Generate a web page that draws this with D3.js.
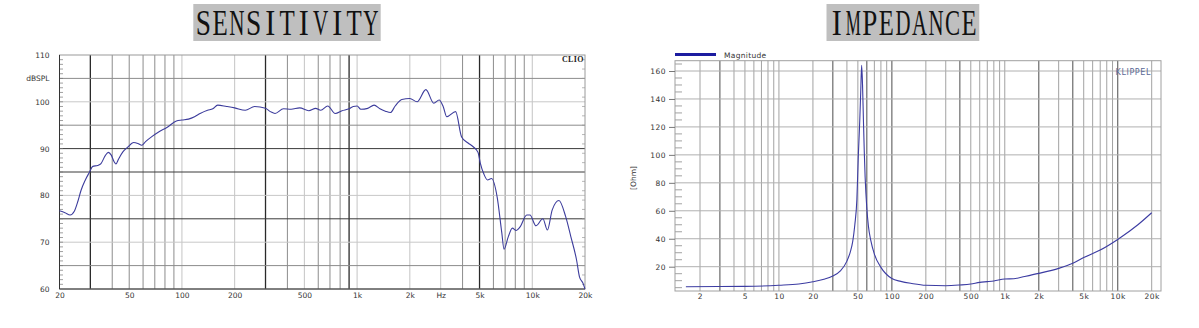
<!DOCTYPE html>
<html>
<head>
<meta charset="utf-8">
<script src="https://cdn.jsdelivr.net/npm/d3@7"></script>
<style>
  body { margin: 0; background: #fff; }
  svg { display: block; }
</style>
</head>
<body>
<svg id="chart" width="1199" height="328"></svg>
<script>
// sensitivity curve (CLIO)
const sensFreq = [20, 21.5, 23, 24.3, 25.5, 26.5, 28, 29.5, 31, 33, 34.5, 36.5, 38, 39.5, 41, 42, 43.5, 46, 49, 53,
  56, 59, 62, 67, 74, 82, 93, 100, 109, 118, 127, 140, 150, 160, 180, 200, 230, 260, 300, 320,
  340, 380, 420, 470, 530, 580, 620, 680, 750, 820, 900, 950, 1000, 1050, 1150, 1250, 1350, 1450, 1550, 1650,
  1800, 2000, 2200, 2470, 2740, 2940, 3100, 3250, 3650, 3950, 4300, 4600, 4900, 5050, 5300, 5550, 5850, 6300, 6700, 6900,
  7300, 7700, 8100, 8500, 9300, 9700, 10500, 11500, 12200, 13000, 14200, 15500, 16600, 17900, 18600, 19500, 20000];
const sensDb = [76.7, 76.3, 75.8, 76.6, 78.8, 81, 83.2, 84.8, 86.2, 86.4, 86.8, 88.5, 89.2, 88.6, 87.2, 86.7, 87.8, 89.3, 90.3, 91.3,
  91.1, 90.7, 91.5, 92.5, 93.6, 94.5, 95.9, 96.1, 96.3, 96.8, 97.5, 98.2, 98.5, 99.3, 99.0, 98.7, 98.2, 99.0, 98.6, 97.9,
  97.5, 98.5, 98.4, 98.7, 98.1, 98.6, 98.2, 99.1, 97.5, 98.1, 98.5, 99.0, 99.1, 98.4, 98.6, 99.3, 98.5, 98.0, 97.7, 99.1,
  100.5, 100.7, 100.0, 102.6, 99.7, 100.4, 99.0, 96.8, 97.9, 92.5, 91.2, 90.4, 89.2, 86.9, 84.5, 83.3, 83.6, 79.7, 72.0, 68.5,
  71.2, 73.0, 72.5, 73.2, 75.8, 75.8, 73.5, 75.0, 72.6, 76.9, 78.9, 75.5, 71.2, 66.2, 62.6, 61.2, 60.0];
const sensXTicks = [20, 50, 100, 200, 500, 1000, 2000, 3000, 5000, 10000, 20000];
const sensXLabels = ["20", "50", "100", "200", "500", "1k", "2k", "Hz", "5k", "10k", "20k"];
const sensYTicks = [60, 70, 80, 90, 100, 105, 110];
const sensYLabels = ["60", "70", "80", "90", "100", "dBSPL", "110"];

// impedance curve (KLIPPEL)
const impFreq = [1.5, 3, 5, 10, 15, 20, 25, 30, 35, 40, 43, 45, 47, 49, 50.5, 52, 53, 54, 55, 56,
  57, 58, 60, 62, 65, 70, 80, 100, 120, 150, 200, 300, 400, 500, 600, 700, 800, 1000, 1200, 1500,
  2000, 3000, 4000, 5000, 7000, 10000, 15000, 20000];
const impOhm = [5.7, 5.8, 5.9, 6.7, 7.6, 9.2, 11, 13.4, 17, 24, 31, 38, 50, 68, 100, 125, 145, 164, 150, 125,
  102, 84, 62, 49, 39, 29, 19.5, 11.5, 9.5, 8, 6.7, 6.4, 6.9, 7.6, 8.8, 9.3, 9.8, 11.2, 11.4, 13,
  15.2, 18.8, 22.4, 26.5, 31.9, 39.5, 49.8, 58.6];
const impXTicks = [2, 5, 10, 20, 50, 100, 200, 500, 1000, 2000, 5000, 10000, 20000];
const impXLabels = ["2", "5", "10", "20", "50", "100", "200", "500", "1k", "2k", "5k", "10k", "20k"];
const impYTicks = [20, 40, 60, 80, 100, 120, 140, 160];

const svg = d3.select("#chart");
const sansFont = '"DejaVu Sans", sans-serif';

function logGridValues(lo, hi) {
  const out = [];
  for (let d = 1; d <= 10000; d *= 10)
    for (let m = 1; m < 10; m++) { const f = d * m; if (f > lo && f < hi) out.push(f); }
  return out;
}

// monospaced-looking title: each glyph squeezed into its own cell
function drawTitle(label, x, w, cell) {
  svg.append("rect").attr("x", x).attr("y", 4).attr("width", w).attr("height", 37).attr("fill", "#bfbfbf");
  const start = x + (w - cell * label.length) / 2;
  svg.append("g").selectAll("text").data(label.split("")).join("text")
    .attr("text-anchor", "middle")
    .attr("font-family", '"Liberation Serif", serif')
    .attr("font-size", 35)
    .attr("fill", "#111")
    .text(c => c)
    .attr("transform", function (c, i) {
      const len = this.getComputedTextLength();
      const k = Math.min(0.86, (cell - 1.5) / len);
      return `translate(${start + cell * (i + 0.5)},35) scale(${k},1)`;
    });
}

// ---------- SENSITIVITY ----------
drawTitle("SENSITIVITY", 193.3, 187.4, 16.75);

const sx = d3.scaleLog().domain([20, 20000]).range([59.5, 585]);
const sy = d3.scaleLinear().domain([60, 110]).range([289, 55]);
const g1 = svg.append("g");

const sensDark = [30, 300, 900, 5000];
const sensLight = [100, 200, 500, 1000, 2000, 3000, 10000];
g1.append("g").selectAll("line").data(logGridValues(20, 20000)).join("line")
  .attr("x1", d => sx(d)).attr("x2", d => sx(d)).attr("y1", sy(110)).attr("y2", sy(60))
  .attr("stroke", d => sensDark.includes(d) ? "#2a2a2a" : sensLight.includes(d) ? "#c4c4c4" : "#8c8c8c")
  .attr("stroke-width", d => sensDark.includes(d) ? 1.3 : 1);

const hDark = [75, 85, 90];
const hLight = [70, 80, 100];
g1.append("g").selectAll("line").data(d3.range(65, 110, 5)).join("line")
  .attr("x1", sx(20)).attr("x2", sx(20000)).attr("y1", d => sy(d)).attr("y2", d => sy(d))
  .attr("stroke", d => hDark.includes(d) ? "#3a3a3a" : hLight.includes(d) ? "#c8c8c8" : "#8c8c8c");

// minor ticks inside the frame
g1.append("g").selectAll("line").data(d3.range(61, 110, 1)).join("line")
  .attr("x1", sx(20)).attr("x2", sx(20) + 3.5).attr("y1", d => sy(d)).attr("y2", d => sy(d))
  .attr("stroke", "#777").attr("stroke-width", 0.7);
g1.append("g").selectAll("line").data(d3.range(61, 110, 2)).join("line")
  .attr("x1", sx(20000) - 3).attr("x2", sx(20000)).attr("y1", d => sy(d)).attr("y2", d => sy(d))
  .attr("stroke", "#999").attr("stroke-width", 0.7);

// frame
g1.append("rect").attr("x", sx(20)).attr("y", sy(110))
  .attr("width", sx(20000) - sx(20)).attr("height", sy(60) - sy(110))
  .attr("fill", "none").attr("stroke", "#9a9a9a");
g1.append("path").attr("d", `M${sx(20)},${sy(110)}V${sy(60)}H${sx(20000)}`)
  .attr("fill", "none").attr("stroke", "#333");

g1.append("path")
  .datum(sensFreq.map((f, i) => [f, sensDb[i]]))
  .attr("fill", "none").attr("stroke", "#3c3c9c").attr("stroke-width", 1.1)
  .attr("d", d3.line().x(d => sx(d[0])).y(d => sy(d[1])).curve(d3.curveMonotoneX));

const sAxisY = g1.append("g").attr("transform", `translate(${sx(20)},0)`)
  .call(d3.axisLeft(sy).tickValues(sensYTicks).tickFormat((d, i) => sensYLabels[i]).tickSize(0).tickPadding(10));
const sAxisX = g1.append("g").attr("transform", `translate(0,${sy(60)})`)
  .call(d3.axisBottom(sx).tickValues(sensXTicks).tickFormat((d, i) => sensXLabels[i]).tickSize(0).tickPadding(4));
[sAxisY, sAxisX].forEach(a => {
  a.select(".domain").remove();
  a.selectAll("text").attr("font-family", sansFont).attr("font-size", 7.5).attr("fill", "#333");
});

g1.append("text").attr("x", sx(20000) - 1).attr("y", 62)
  .attr("text-anchor", "end").attr("font-family", '"Liberation Serif", serif')
  .attr("font-weight", "bold").attr("font-size", 8).attr("letter-spacing", 0.4)
  .attr("fill", "#222").text("CLIO");

// ---------- IMPEDANCE ----------
drawTitle("IMPEDANCE", 826.5, 152.8, 16.56);

const ix = d3.scaleLog().domain([2, 20000]).range([700, 1151.7]);
const iy = d3.scaleLinear().domain([20, 160]).range([266.7, 71]);
const fx0 = 675, fx1 = 1161, fy0 = 60.7, fy1 = 291;
const g2 = svg.append("g");

const impDark = [3, 30, 60, 100, 400, 2000, 4000, 10000];
g2.append("g").selectAll("line").data(logGridValues(ix.invert(fx0), ix.invert(fx1))).join("line")
  .attr("x1", d => ix(d)).attr("x2", d => ix(d)).attr("y1", fy0).attr("y2", fy1)
  .attr("stroke", d => impDark.includes(d) ? "#6a6a6a" : "#a2a2a2")
  .attr("stroke-width", d => impDark.includes(d) ? 1.2 : 1);

g2.append("g").selectAll("line").data(impYTicks).join("line")
  .attr("x1", fx0).attr("x2", fx1).attr("y1", d => iy(d)).attr("y2", d => iy(d))
  .attr("stroke", "#b0b0b0");

g2.append("g").selectAll("line").data(d3.range(5, 170, 5).filter(v => v % 20 !== 0)).join("line")
  .attr("x1", fx0).attr("x2", fx0 + 7).attr("y1", d => iy(d)).attr("y2", d => iy(d))
  .attr("stroke", "#8a8a8a").attr("stroke-width", 0.8);

g2.append("rect").attr("x", fx0).attr("y", fy0).attr("width", fx1 - fx0).attr("height", fy1 - fy0)
  .attr("fill", "none").attr("stroke", "#a0a0a0");

g2.append("path")
  .datum(impFreq.map((f, i) => [f, impOhm[i]]))
  .attr("fill", "none").attr("stroke", "#3c3ca2").attr("stroke-width", 1.1)
  .attr("d", d3.line().x(d => ix(d[0])).y(d => iy(d[1])).curve(d3.curveMonotoneX));

const iAxisY = g2.append("g").attr("transform", `translate(${fx0},0)`)
  .call(d3.axisLeft(iy).tickValues(impYTicks).tickSize(6).tickPadding(3));
const iAxisX = g2.append("g").attr("transform", `translate(0,${fy1})`)
  .call(d3.axisBottom(ix).tickValues(impXTicks).tickFormat((d, i) => impXLabels[i]).tickSize(0).tickPadding(3));
[iAxisY, iAxisX].forEach(a => {
  a.select(".domain").remove();
  a.selectAll("line").attr("stroke", "#777");
  a.selectAll("text").attr("font-family", sansFont).attr("font-size", 7.5)
    .attr("letter-spacing", 0.5).attr("fill", "#333");
});

g2.append("text").attr("transform", "translate(636,178) rotate(-90)")
  .attr("text-anchor", "middle").attr("font-family", sansFont).attr("font-size", 7.5)
  .attr("fill", "#333").text("[Ohm]");

// legend
g2.append("line").attr("x1", fx0).attr("x2", 716).attr("y1", 54.5).attr("y2", 54.5)
  .attr("stroke", "#1c1ca0").attr("stroke-width", 3);
g2.append("text").attr("x", 724).attr("y", 57.5)
  .attr("font-family", sansFont).attr("font-size", 7.5).attr("letter-spacing", 0.3)
  .attr("fill", "#333").text("Magnitude");

g2.append("text").attr("x", 1151).attr("y", 75)
  .attr("text-anchor", "end").attr("font-family", sansFont).attr("font-size", 8)
  .attr("letter-spacing", 0.6).attr("fill", "#5a6a96").text("KLIPPEL");
</script>
</body>
</html>
